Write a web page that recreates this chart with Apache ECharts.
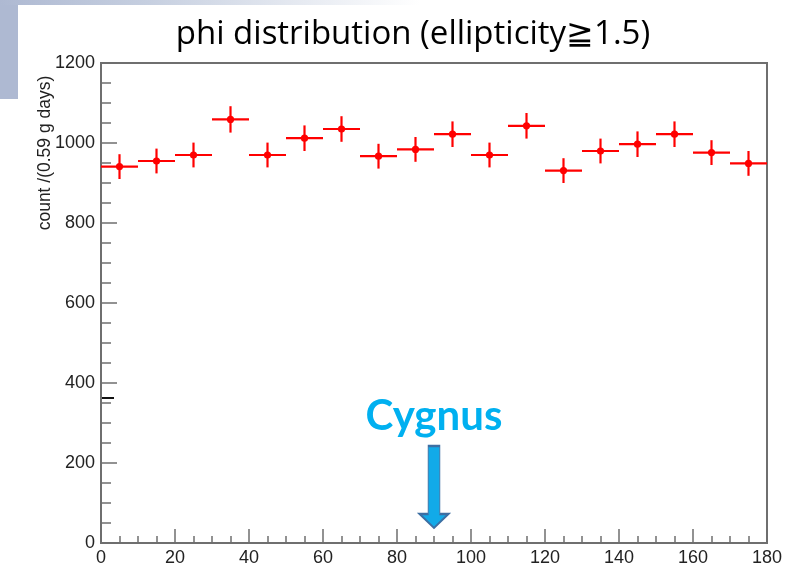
<!DOCTYPE html>
<html>
<head>
<meta charset="utf-8">
<script src="https://cdn.jsdelivr.net/npm/echarts@6/dist/echarts.min.js"></script>
<style>
  html, body { margin: 0; padding: 0; background: #fff; }
  #chart { width: 798px; height: 568px; }
</style>
</head>
<body>
<div id="chart"></div>
<script>
// bin centres of phi (degree), 10 degree bins
var phiCenters = [5, 15, 25, 35, 45, 55, 65, 75, 85, 95, 105, 115, 125, 135, 145, 155, 165, 175];
var counts = [941, 955, 970, 1059, 970, 1012, 1035, 967, 984, 1022, 970, 1043, 931, 980, 997, 1022, 976, 949];
var countErrors = [31, 31, 31, 33, 31, 32, 32, 31, 31, 32, 31, 32, 31, 31, 32, 32, 31, 31];
var halfBin = 5;
var xTicks = [0, 20, 40, 60, 80, 100, 120, 140, 160, 180];
var yTicks = [0, 200, 400, 600, 800, 1000, 1200];
var cygnusPhi = 90;

var histData = phiCenters.map(function (p, i) {
  return [p, counts[i], countErrors[i]];
});

var chart = echarts.init(document.getElementById("chart"));

var axisColor = "#6f6f6f";
var labelFont = "Liberation Sans";

var option = {
  animation: false,
  backgroundColor: "#fff",
  title: {
    text: "phi distribution (ellipticity≧1.5)",
    left: 408,
    top: 13,
    textAlign: "center",
    textStyle: { fontFamily: "Open Sans", fontWeight: "normal", fontSize: 33, color: "#000" }
  },
  graphic: [
    {
      type: "rect",
      shape: { x: 0, y: 0, width: 18, height: 99 },
      style: { fill: "#aeb9d2" },
      silent: true
    },
    {
      type: "rect",
      shape: { x: 0, y: 0, width: 420, height: 5 },
      style: {
        fill: new echarts.graphic.LinearGradient(0, 0, 1, 0, [
          { offset: 0, color: "#aeb9d2" },
          { offset: 0.35, color: "#c6cfe0" },
          { offset: 1, color: "#ffffff" }
        ])
      },
      silent: true
    },
    {
      type: "text",
      x: 45,
      y: 153,
      rotation: Math.PI / 2,
      style: {
        text: "count /(0.59 g days)",
        fontFamily: labelFont,
        fontSize: 17.5,
        fill: "#222",
        textAlign: "center",
        textVerticalAlign: "middle"
      }
    },
    {
      type: "line",
      shape: { x1: 101, y1: 398, x2: 114, y2: 398 },
      style: { stroke: "#111", lineWidth: 2 }
    }
  ],
  grid: {
    left: 101,
    right: 31,
    top: 63,
    bottom: 25,
    show: true,
    borderColor: axisColor,
    borderWidth: 2,
    backgroundColor: "transparent"
  },
  xAxis: {
    type: "value",
    min: 0,
    max: 180,
    interval: 20,
    axisLine: { show: true, onZero: false, lineStyle: { color: axisColor, width: 2 } },
    axisTick: { show: true, inside: true, length: 14, lineStyle: { color: axisColor, width: 1.5 } },
    minorTick: { show: true, splitNumber: 4, length: 7, lineStyle: { color: axisColor, width: 1.5 } },
    splitLine: { show: false },
    axisLabel: {
      margin: 6,
      fontFamily: labelFont,
      fontSize: 18,
      color: "#222",
      showMinLabel: true,
      showMaxLabel: true,
      formatter: function (v) { return xTicks.indexOf(v) >= 0 ? String(v) : ""; }
    }
  },
  yAxis: {
    type: "value",
    min: 0,
    max: 1200,
    interval: 200,
    axisLine: { show: true, onZero: false, lineStyle: { color: axisColor, width: 2 } },
    axisTick: { show: true, inside: true, length: 16, lineStyle: { color: axisColor, width: 1.5 } },
    minorTick: { show: true, splitNumber: 4, length: 10, lineStyle: { color: axisColor, width: 1.5 } },
    splitLine: { show: false },
    axisLabel: {
      margin: 6,
      fontFamily: labelFont,
      fontSize: 18,
      color: "#222",
      formatter: function (v) { return yTicks.indexOf(v) >= 0 ? String(v) : ""; }
    }
  },
  series: [
    {
      type: "custom",
      name: "phi",
      data: histData,
      encode: { x: 0, y: 1 },
      renderItem: function (params, api) {
        var x = api.value(0), y = api.value(1), e = api.value(2);
        var l = api.coord([x - halfBin, y]);
        var r = api.coord([x + halfBin, y]);
        var t = api.coord([x, y + e]);
        var b = api.coord([x, y - e]);
        var c = api.coord([x, y]);
        var st = { stroke: "#ff0000", lineWidth: 2.2 };
        return {
          type: "group",
          children: [
            { type: "line", shape: { x1: l[0], y1: l[1], x2: r[0], y2: r[1] }, style: st },
            { type: "line", shape: { x1: t[0], y1: t[1], x2: b[0], y2: b[1] }, style: st },
            { type: "circle", shape: { cx: c[0], cy: c[1], r: 3.6 }, style: { fill: "#ff0000" } }
          ]
        };
      },
      markPoint: {
        silent: true,
        data: [
          {
            coord: [cygnusPhi, 140],
            symbol: "path://M9,0 L21,0 L21,68 L30,68 L15,82 L0,68 L9,68 Z",
            symbolSize: [29, 82],
            symbolKeepAspect: false,
            itemStyle: { color: "#12aae8", borderColor: "#3d6fa3", borderWidth: 1.5 },
            label: {
              show: true,
              position: "top",
              distance: 7,
              formatter: "Cygnus",
              fontFamily: "Lato",
              fontWeight: "bold",
              fontSize: 42,
              color: "#00b0f0"
            }
          }
        ]
      }
    }
  ]
};

chart.setOption(option);
window.onresize = function () {
  chart.resize();
};
</script>
</body>
</html>
